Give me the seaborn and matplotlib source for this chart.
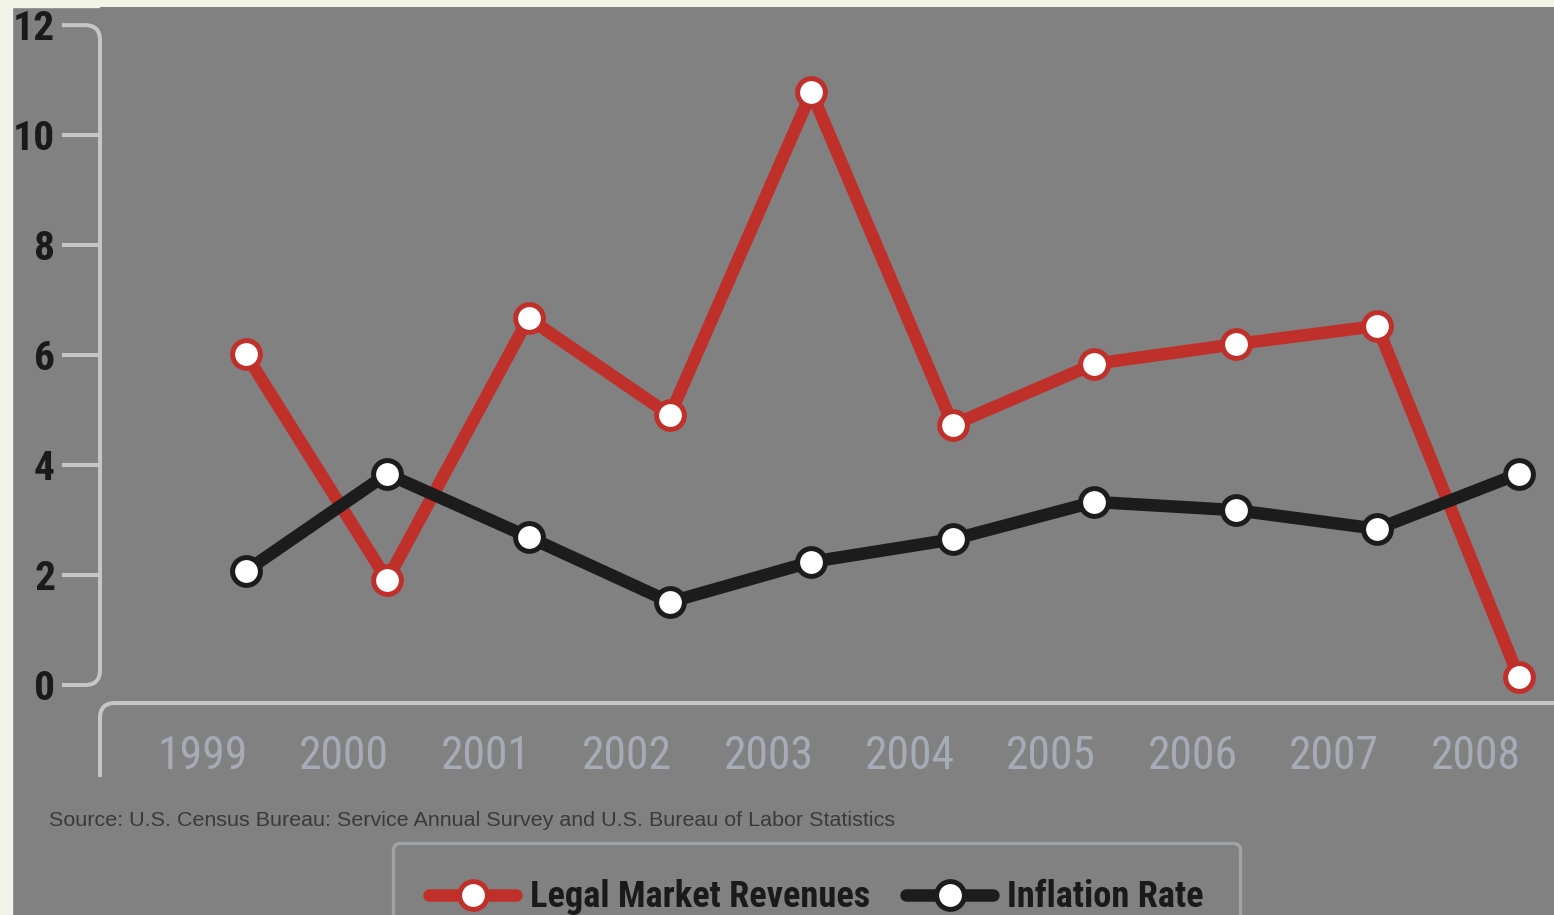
import matplotlib
matplotlib.use("Agg")
import matplotlib.pyplot as plt
import seaborn as sns
import pandas as pd
import numpy as np
from matplotlib.path import Path
from matplotlib.patches import PathPatch, Rectangle
from matplotlib.transforms import IdentityTransform, ScaledTranslation
from matplotlib import font_manager

years = ["1999", "2000", "2001", "2002", "2003", "2004", "2005", "2006", "2007", "2008"]
legal_revenues = [6.02, 1.91, 6.67, 4.91, 10.78, 4.73, 5.84, 6.20, 6.53, 0.15]
inflation_rate = [2.07, 3.84, 2.69, 1.51, 2.24, 2.65, 3.33, 3.18, 2.84, 3.84]
y_ticks = [0, 2, 4, 6, 8, 10, 12]
series_names = ["Legal Market Revenues", "Inflation Rate"]
source_text = "Source: U.S. Census Bureau: Service Annual Survey and U.S. Bureau of Labor Statistics"

RED = "#c0302a"
BLACK = "#1c1c1c"
BG = "#818181"
SPINE = "#c6c6c6"

# pick a narrow / condensed family if one is installed
entries = font_manager.fontManager.ttflist
names = {f.name for f in entries}
narrow = None
for cand in ["Liberation Sans Narrow", "DejaVu Sans Condensed", "Roboto Condensed",
             "Open Sans Condensed", "Noto Sans Condensed"]:
    if cand in names:
        narrow = cand
        break
if narrow is None:
    for f in entries:
        if ("Condensed" in f.name or "Narrow" in f.name) and "Mono" not in f.name:
            narrow = f.name
            break
if narrow is None:
    narrow = "Noto Sans CJK SC" if "Noto Sans CJK SC" in names else "DejaVu Sans"
NARROW = [narrow, "DejaVu Sans"]
SANS = ["Liberation Sans" if "Liberation Sans" in names else "DejaVu Sans", "DejaVu Sans"]

sns.set_theme(style="white")
plt.rcParams["font.family"] = SANS

W, H = 1554, 915
fig = plt.figure(figsize=(W / 100, H / 100), dpi=100)
fig.patch.set_facecolor(BG)
renderer = fig.canvas.get_renderer()


def fit_size(text, family, weight, target_px):
    t = fig.text(0, 0, text, fontsize=100, family=family, fontweight=weight)
    w = t.get_window_extent(renderer).width
    t.remove()
    return 100 * target_px / w


ysize = fit_size("10", NARROW, "bold", 42)
xsize = fit_size("1999", NARROW, "normal", 90)
ssize = fit_size(source_text, SANS, "normal", 845)
lsize = fit_size(series_names[0], NARROW, "bold", 340)

# cream outer strips
fig.add_artist(Rectangle((0, 0), 12 / W, 1, transform=fig.transFigure, color="#f1f4e6", zorder=0))
fig.add_artist(Rectangle((0, 1 - 7 / H), 1, 7 / H, transform=fig.transFigure, color="#f1f4e6", zorder=0))

ax_l, ax_r, ax_t, ax_b = 100, 1554, 7, 703
ax = fig.add_axes([ax_l / W, 1 - ax_b / H, (ax_r - ax_l) / W, (ax_b - ax_t) / H])
ax.set_facecolor(BG)

x_idx = np.arange(len(years))
df = pd.DataFrame({
    "x": np.concatenate([x_idx, x_idx]),
    "value": legal_revenues + inflation_rate,
    "series": [series_names[0]] * len(years) + [series_names[1]] * len(years),
})

for name, col, lw in [(series_names[0], RED, 7.8), (series_names[1], BLACK, 8.6)]:
    sub = df[df["series"] == name]
    sns.lineplot(data=sub, x="x", y="value", ax=ax, color=col, linewidth=lw,
                 marker="o", markersize=19.5, markerfacecolor="white",
                 markeredgecolor=col, markeredgewidth=3.6, label=name,
                 legend=False, solid_capstyle="round", solid_joinstyle="round")

ax.set_xlim(-1.03, 9.25)
ax.set_ylim(-0.327, 12.33)
for s in ax.spines.values():
    s.set_visible(False)
ax.set_xlabel("")
ax.set_ylabel("")

ax.set_yticks(y_ticks)
ax.set_yticklabels([str(v) for v in y_ticks], fontsize=ysize, fontweight="bold",
                   color="#1a1a1a", family=NARROW)
ax.tick_params(axis="y", direction="out", length=27.4, width=2.9, color=SPINE, pad=5, left=True)
ticks = ax.yaxis.get_major_ticks()
ticks[0].tick1line.set_visible(False)
ticks[-1].tick1line.set_visible(False)

ax.set_xticks(x_idx)
ax.set_xticklabels(years, fontsize=xsize, color="#a5acb7", family=NARROW)
ax.tick_params(axis="x", length=0, pad=22)
off = ScaledTranslation(-0.43, 0, fig.dpi_scale_trans)
for lab in ax.get_xticklabels():
    lab.set_transform(lab.get_transform() + off)

# custom rounded spines (display coords == pixels at dpi 100)
y0 = ax.transData.transform((0, 0))[1]
y12 = ax.transData.transform((0, 12))[1]
sx = ax.transAxes.transform((0, 0))[0]
r = 15
tl = 38
vpath = Path(
    [(sx - tl, y12), (sx - r, y12), (sx, y12), (sx, y12 - r),
     (sx, y0 + r), (sx, y0), (sx - r, y0), (sx - tl, y0)],
    [Path.MOVETO, Path.LINETO, Path.CURVE3, Path.CURVE3,
     Path.LINETO, Path.CURVE3, Path.CURVE3, Path.LINETO])
fig.add_artist(PathPatch(vpath, fill=False, edgecolor=SPINE, linewidth=2.9,
                         transform=IdentityTransform(), capstyle="butt"))
yb = ax.transAxes.transform((0, 0))[1]
xr = ax.transAxes.transform((1, 0))[0]
hpath = Path(
    [(xr + 5, yb), (sx + r, yb), (sx, yb), (sx, yb - r), (sx, H - 777)],
    [Path.MOVETO, Path.LINETO, Path.CURVE3, Path.CURVE3, Path.LINETO])
fig.add_artist(PathPatch(hpath, fill=False, edgecolor=SPINE, linewidth=2.9,
                         transform=IdentityTransform(), capstyle="butt"))

fig.text(49 / W, 1 - 821 / H, source_text, fontsize=ssize, color="#3a3a3a", va="center", ha="left")

handles, labels = ax.get_legend_handles_labels()
for h in handles:
    h.set_linewidth(9)
    h.set_markersize(20)
lpx = lsize * 100 / 72
leg = fig.legend(handles, labels, loc="upper left", bbox_to_anchor=(393 / W, 1 - 843 / H),
                 ncol=2, frameon=True, fancybox=True, borderaxespad=0,
                 prop={"family": NARROW, "weight": "bold", "size": lsize},
                 handlelength=87 / lpx, handletextpad=14 / lpx, columnspacing=36 / lpx,
                 borderpad=1.0)
leg.get_frame().set_facecolor(BG)
leg.get_frame().set_edgecolor("#a9abb3")
leg.get_frame().set_linewidth(2.4)
for t in leg.get_texts():
    t.set_color("#1a1a1a")

fig.savefig("out.png", dpi=100, facecolor=fig.get_facecolor())
